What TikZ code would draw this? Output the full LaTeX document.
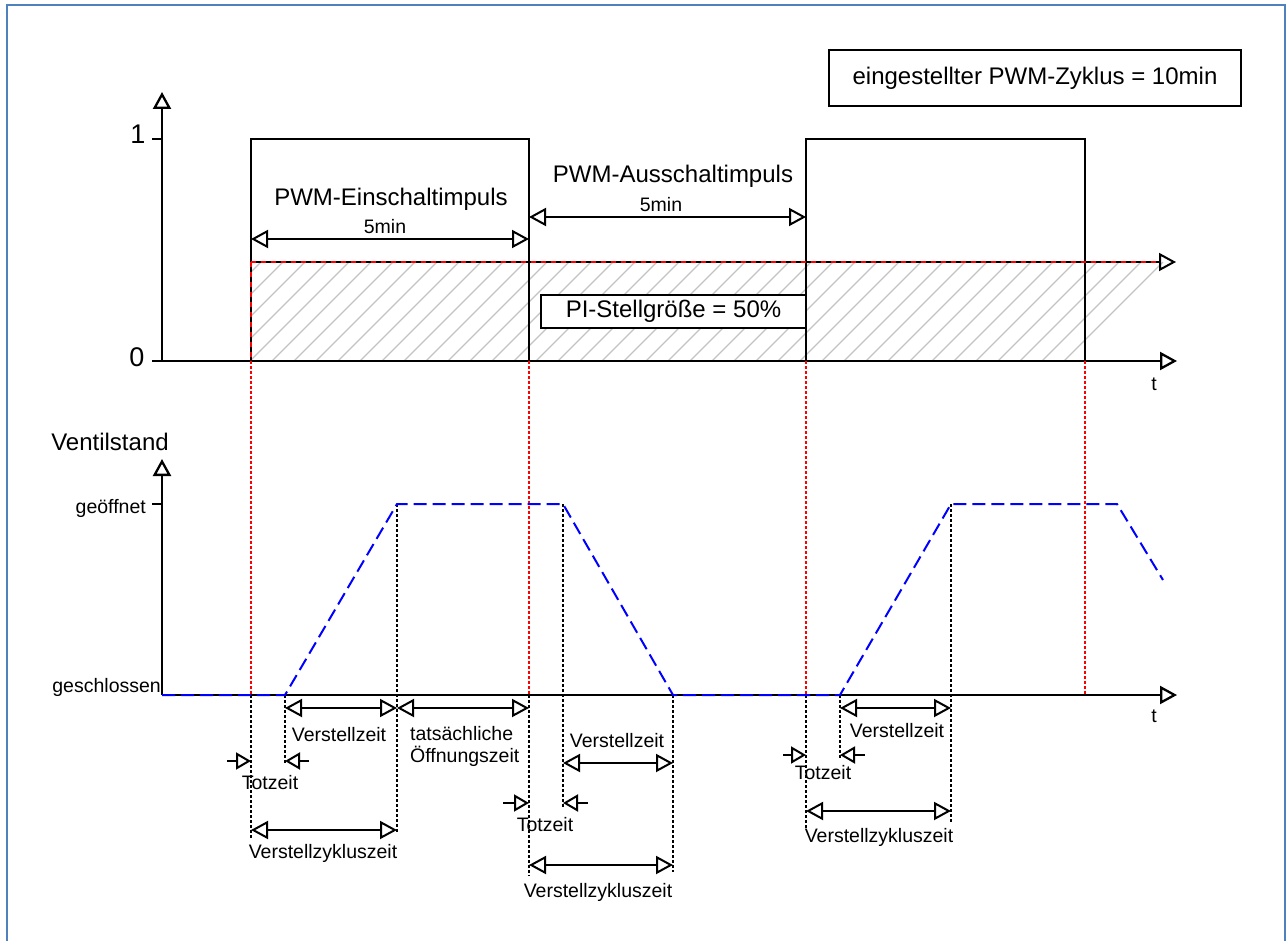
\documentclass[tikz,border=0pt]{standalone}
\usepackage{fontspec}
\setmainfont{Liberation Sans}
\usetikzlibrary{arrows.meta}
\definecolor{frameblue}{RGB}{79,129,189}
\definecolor{hatchgray}{RGB}{195,195,195}
\begin{document}
\begin{tikzpicture}[x=1pt,y=-1pt,
  big/.style={font=\fontsize{24}{28}\selectfont, inner sep=0pt, anchor=base},
  digit/.style={font=\fontsize{27}{30}\selectfont, inner sep=0pt, anchor=base},
  small/.style={font=\fontsize{19.5}{23}\selectfont, inner sep=0pt, anchor=base},
  axisline/.style={line width=2.3pt, -{Triangle[open,length=17pt,width=18pt]}},
  dimarrow/.style={line width=2pt, {Triangle[open,length=17pt,width=18pt]}-{Triangle[open,length=17pt,width=18pt]}},
  tiparrow/.style={line width=2pt, -{Triangle[open,length=15pt,width=17pt]}},
  reddot/.style={red, line width=2pt, dash pattern=on 2.5pt off 2.5pt},
  blackdot/.style={black, line width=2pt, dash pattern=on 2.5pt off 2.5pt},
  valve/.style={blue, line width=2pt, dash pattern=on 13pt off 6pt},
  pulse/.style={line width=1.9pt},
  labelbox/.style={draw, line width=2.2pt, fill=white, inner sep=0pt, font=\fontsize{24}{28}\selectfont},
  tickline/.style={line width=2.3pt}
]
\useasboundingbox (0,0) rectangle (1287,941);
% frame
\draw[frameblue, line width=2.4pt] (7,945) -- (7,5) -- (1285,5) -- (1285,945);

% ---------- upper plot ----------
% hatching
\begin{scope}
\clip (251,262) -- (1166,262) -- (1085,343) -- (1085,361) -- (251,361) -- cycle;
\foreach \k in {0,...,45} { \draw[hatchgray, line width=1.3pt] ({1064-22*\k},361) -- ++(99,-99); }
\end{scope}

% pulses
\draw[pulse] (251,262) -- (251,139) -- (529,139) -- (529,361);
\draw[pulse] (806,361) -- (806,139) -- (1085,139) -- (1085,361);

% PI level line
\draw[line width=2pt, -{Triangle[open,length=17pt,width=18pt]}] (251,262) -- (1176,262);
\draw[red, line width=2pt, dash pattern=on 5pt off 5pt] (251,262) -- (1158,262);
\draw[line width=2pt] (251,262) -- (251,361);
\draw[red, line width=2pt, dash pattern=on 5pt off 5pt] (251,262) -- (251,361);

% axes
\draw[axisline] (162,361) -- (162,92);
\draw[axisline] (152,361) -- (1177,361);
\draw[tickline] (152,139) -- (162,139);
\node[digit] (one) at (138,144) {1};
\node[digit] (zero) at (137,366) {0};
\node[small] (t1) at (1154,390) {t};

% labels
\node[big] (ein) at (391,206) {PWM-Einschaltimpuls};
\node[small] (fmin1) at (385,234) {5min};
\draw[dimarrow] (251,239) -- (529,239);
\node[big] (aus) at (673,183) {PWM-Ausschaltimpuls};
\node[small] (fmin2) at (661,212) {5min};
\draw[dimarrow] (529,217) -- (806,217);
\node[labelbox, minimum width=412pt, minimum height=56pt] (zyk) at (1035,78) {eingestellter PWM-Zyklus = 10min};
\node[labelbox, minimum width=265pt, minimum height=33pt] (pi) at (673.5,311.5) {PI-Stellgröße = 50\%};

% red dotted verticals
\draw[reddot] (251,361) -- (251,695);
\draw[reddot] (529,361) -- (529,695);
\draw[reddot] (806,361) -- (806,695);
\draw[reddot] (1085,361) -- (1085,695);

% ---------- lower plot ----------
\node[big] (vs) at (110,450) {Ventilstand};
\draw[axisline] (162,695) -- (162,459);
\draw[axisline] (162,695) -- (1177,695);
\draw[tickline] (152,504) -- (162,504);
\node[small, anchor=base east] (geo) at (146,513) {geöffnet};
\node[small, anchor=base east] (ges) at (161,692) {geschlossen};
\node[small] (t2) at (1154,722) {t};

% black dotted verticals
\draw[blackdot] (251,695) -- (251,838);
\draw[blackdot] (285,695) -- (285,763);
\draw[blackdot] (397,504) -- (397,833);
\draw[blackdot] (529,695) -- (529,876);
\draw[blackdot] (563,504) -- (563,808);
\draw[blackdot] (673,695) -- (673,872);
\draw[blackdot] (806,695) -- (806,828);
\draw[blackdot] (840,695) -- (840,758);
\draw[blackdot] (951,504) -- (951,823);

% valve position curve
\draw[valve] (162,695) -- (285,695) -- (397,504) -- (563,504) -- (673,695) -- (840,695) -- (951,504) -- (1117,504) -- (1163,580);

% annotations cycle 1
\draw[dimarrow] (285,708) -- (397,708);
\node[small] (vz1) at (339,741) {Verstellzeit};
\draw[dimarrow] (397,708) -- (529,708);
\node[small, anchor=base west] (tat) at (410,740) {tatsächliche};
\node[small, anchor=base west] (oef) at (410,762) {Öffnungszeit};
\draw[tiparrow] (227,761) -- (251,761);
\draw[tiparrow] (309,761) -- (285,761);
\node[small] (tz1) at (270,789) {Totzeit};
\draw[dimarrow] (251,830) -- (397,830);
\node[small] (vzz1) at (323,858) {Verstellzykluszeit};

% annotations cycle 2
\node[small] (vz2) at (617,747) {Verstellzeit};
\draw[dimarrow] (563,763) -- (673,763);
\draw[tiparrow] (503,803) -- (529,803);
\draw[tiparrow] (588,803) -- (563,803);
\node[small] (tz2) at (545,831) {Totzeit};
\draw[dimarrow] (529,865) -- (673,865);
\node[small] (vzz2) at (598,897) {Verstellzykluszeit};

% annotations cycle 3
\draw[dimarrow] (840,708) -- (951,708);
\node[small] (vz3) at (897,737) {Verstellzeit};
\draw[tiparrow] (783,755) -- (806,755);
\draw[tiparrow] (865,755) -- (840,755);
\node[small] (tz3) at (823,779) {Totzeit};
\draw[dimarrow] (806,811) -- (951,811);
\node[small] (vzz3) at (879,842) {Verstellzykluszeit};
\end{tikzpicture}
\end{document}
